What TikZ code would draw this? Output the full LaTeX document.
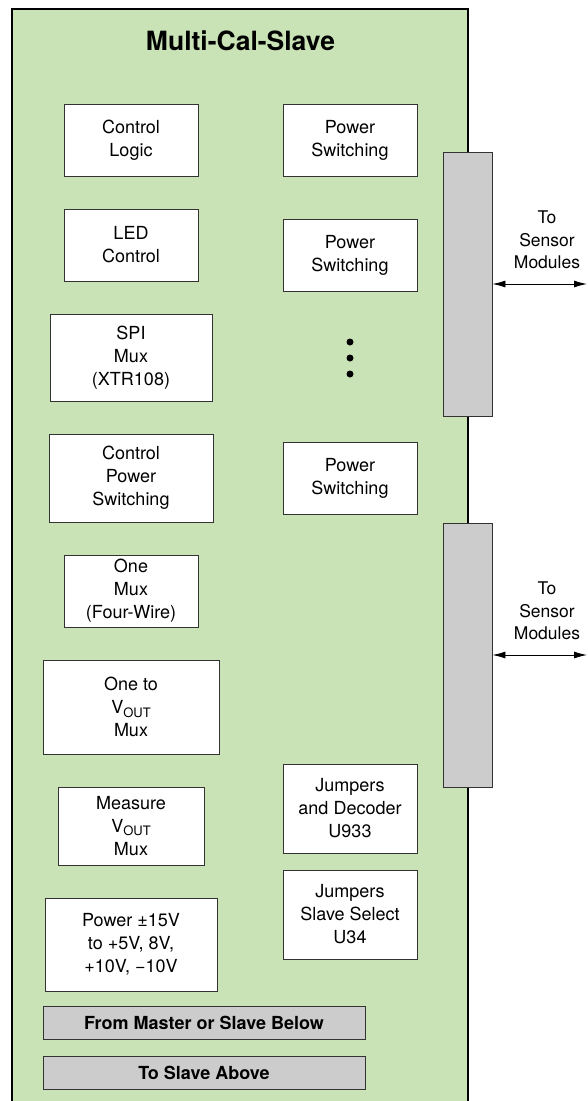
\documentclass[tikz,border=0pt]{standalone}
\usepackage{fontspec}
\setmainfont{TeX Gyre Heros}
\usetikzlibrary{arrows.meta}
\definecolor{boardgreen}{RGB}{201,227,183}
\definecolor{conngray}{RGB}{204,204,204}
\definecolor{edgegray}{RGB}{51,51,51}
\newcommand{\vout}{V\raisebox{-3.5pt}{\fontsize{13}{13}\selectfont OUT}}
\tikzset{
	blk/.style={draw=edgegray,fill=white,line width=0.9pt,align=center,inner sep=0pt,font=\fontsize{18}{23}\selectfont},
	conn/.style={draw=edgegray,fill=conngray,line width=0.9pt,minimum width=49pt,minimum height=264pt,inner sep=0pt},
	bar/.style={draw=edgegray,fill=conngray,line width=0.9pt,minimum width=322pt,minimum height=33pt,inner sep=0pt,font=\fontsize{18}{22}\selectfont\bfseries},
	lbl/.style={align=center,inner sep=0pt,font=\fontsize{17.5}{22.5}\selectfont},
	dbl/.style={{Latex[length=13pt,width=7pt]}-{Latex[length=13pt,width=7pt]},line width=0.9pt}
}
\begin{document}
\begin{tikzpicture}[x=1pt,y=-1pt]
	\useasboundingbox (0,0) rectangle (587,1101);
	%board
	\draw[fill=boardgreen,line width=2.5pt] (12,9) rectangle (468,1120);
	\node[font=\fontsize{26.5}{26.5}\selectfont\bfseries] (title) at (240.5,41) {Multi-Cal-Slave};
	
	%left column
	\node[blk,minimum width=134pt,minimum height=72pt] (ctrl) at (131,140) {Control\\Logic};
	\node[blk,minimum width=134pt,minimum height=72pt] (led) at (131,245) {LED\\Control};
	\node[blk,minimum width=162pt,minimum height=87pt] (spi) at (131,357.5) {SPI\\Mux\\(XTR108)};
	\node[blk,minimum width=164pt,minimum height=88pt] (cps) at (131,478) {Control\\Power\\Switching};
	\node[blk,minimum width=134pt,minimum height=72pt] (onemux) at (131,591) {One\\Mux\\(Four-Wire)};
	\node[blk,minimum width=176pt,minimum height=94pt] (onevout) at (131,707) {One to\\\vout\\Mux};
	\node[blk,minimum width=146pt,minimum height=78pt] (meas) at (131,826) {Measure\\\vout\\Mux};
	\node[blk,minimum width=172pt,minimum height=93pt] (pwr) at (131,944.5) {Power ±15V\\to +5V, 8V,\\+10V, −10V};
	
	%right column
	\node[blk,minimum width=134pt,minimum height=72pt] (ps1) at (350,140) {Power\\Switching};
	\node[blk,minimum width=134pt,minimum height=72pt] (ps2) at (350,255) {Power\\Switching};
	\foreach \y in {342,358,374} \fill (350,\y) circle (3.5pt);
	\node[blk,minimum width=134pt,minimum height=72pt] (ps3) at (350,478) {Power\\Switching};
	\node[blk,minimum width=134pt,minimum height=89pt] (jdec) at (350,808.5) {Jumpers\\and Decoder\\U933};
	\node[blk,minimum width=134pt,minimum height=89pt] (jsel) at (350,914.5) {Jumpers\\Slave Select\\U34};
	
	%bus bars
	\node[bar] (below) at (204,1022.5) {From Master or Slave Below};
	\node[bar] (above) at (204,1072.5) {To Slave Above};
	
	%connectors to sensor modules
	\node[conn] (conn1) at (467.5,284) {}; \node[conn] (conn2) at (467.5,655) {};
	\coordinate (out1) at (587,284); \coordinate (out2) at (587,655);
	\draw[dbl] (conn1.east) -- (out1); \draw[dbl] (conn2.east) -- (out2);
	\node[lbl] (mod1) at (547,240) {To\\Sensor\\Modules};
	\node[lbl] (mod2) at (547,611) {To\\Sensor\\Modules};
\end{tikzpicture}
\end{document}
